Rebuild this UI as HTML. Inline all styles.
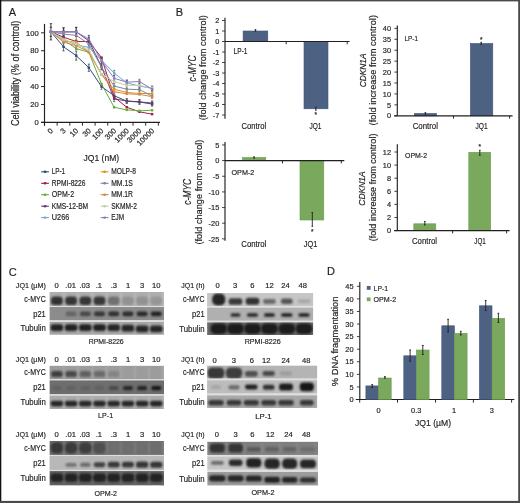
<!DOCTYPE html><html><head><meta charset="utf-8"><style>html,body{margin:0;padding:0;background:#fff;overflow:hidden}svg{display:block;will-change:transform}text{font-family:"Liberation Sans", sans-serif;stroke:#231f20;stroke-width:0.18px}</style></head><body><svg width="520" height="503" viewBox="0 0 520 503" font-family='"Liberation Sans", sans-serif'><defs><filter id="b1" x="-50%" y="-80%" width="200%" height="260%"><feGaussianBlur stdDeviation="0.95"/></filter><clipPath id="c0"><rect x="49.5" y="292.0" width="114.50" height="13.90"/></clipPath><clipPath id="c1"><rect x="49.5" y="306.9" width="114.50" height="13.40"/></clipPath><clipPath id="c2"><rect x="49.5" y="321.8" width="114.50" height="13.00"/></clipPath><clipPath id="c3"><rect x="49.5" y="365.7" width="114.50" height="13.50"/></clipPath><clipPath id="c4"><rect x="49.5" y="380.3" width="114.50" height="13.90"/></clipPath><clipPath id="c5"><rect x="49.5" y="395.6" width="114.50" height="13.40"/></clipPath><clipPath id="c6"><rect x="49.5" y="441.0" width="114.50" height="13.90"/></clipPath><clipPath id="c7"><rect x="49.5" y="455.9" width="114.50" height="14.00"/></clipPath><clipPath id="c8"><rect x="49.5" y="471.1" width="114.50" height="14.40"/></clipPath><clipPath id="c9"><rect x="207.1" y="293.1" width="106.10" height="12.80"/></clipPath><clipPath id="c10"><rect x="207.1" y="307.5" width="106.10" height="13.20"/></clipPath><clipPath id="c11"><rect x="207.1" y="322.3" width="106.10" height="12.70"/></clipPath><clipPath id="c12"><rect x="207.1" y="365.6" width="110.10" height="13.00"/></clipPath><clipPath id="c13"><rect x="207.1" y="380.2" width="110.10" height="13.20"/></clipPath><clipPath id="c14"><rect x="207.1" y="395.3" width="110.10" height="12.60"/></clipPath><clipPath id="c15"><rect x="207.3" y="441.7" width="110.70" height="13.20"/></clipPath><clipPath id="c16"><rect x="207.3" y="456.5" width="110.70" height="13.20"/></clipPath><clipPath id="c17"><rect x="207.3" y="471.9" width="110.70" height="13.70"/></clipPath></defs><rect x="0" y="0" width="520" height="503" fill="#fff"/><text x="8.8" y="16.1" font-size="11" text-anchor="start" fill="#231f20">A</text><line x1="44.50" y1="23.90" x2="44.50" y2="125.70" stroke="#231f20" stroke-width="1.15"/><line x1="41.00" y1="122.40" x2="44.50" y2="122.40" stroke="#231f20" stroke-width="0.95"/><text x="38.7" y="125.15" font-size="7.6" text-anchor="end" fill="#231f20">0</text><line x1="41.00" y1="104.48" x2="44.50" y2="104.48" stroke="#231f20" stroke-width="0.95"/><text x="38.7" y="107.23" font-size="7.6" text-anchor="end" fill="#231f20">20</text><line x1="41.00" y1="86.56" x2="44.50" y2="86.56" stroke="#231f20" stroke-width="0.95"/><text x="38.7" y="89.31" font-size="7.6" text-anchor="end" fill="#231f20">40</text><line x1="41.00" y1="68.64" x2="44.50" y2="68.64" stroke="#231f20" stroke-width="0.95"/><text x="38.7" y="71.39000000000001" font-size="7.6" text-anchor="end" fill="#231f20">60</text><line x1="41.00" y1="50.72" x2="44.50" y2="50.72" stroke="#231f20" stroke-width="0.95"/><text x="38.7" y="53.47" font-size="7.6" text-anchor="end" fill="#231f20">80</text><line x1="41.00" y1="32.80" x2="44.50" y2="32.80" stroke="#231f20" stroke-width="0.95"/><text x="38.7" y="35.55" font-size="7.6" text-anchor="end" fill="#231f20">100</text><line x1="41.00" y1="122.40" x2="160.00" y2="122.40" stroke="#231f20" stroke-width="1.15"/><line x1="44.50" y1="122.40" x2="44.50" y2="125.70" stroke="#231f20" stroke-width="0.95"/><line x1="57.15" y1="122.40" x2="57.15" y2="125.70" stroke="#231f20" stroke-width="0.95"/><line x1="69.80" y1="122.40" x2="69.80" y2="125.70" stroke="#231f20" stroke-width="0.95"/><line x1="82.45" y1="122.40" x2="82.45" y2="125.70" stroke="#231f20" stroke-width="0.95"/><line x1="95.10" y1="122.40" x2="95.10" y2="125.70" stroke="#231f20" stroke-width="0.95"/><line x1="107.75" y1="122.40" x2="107.75" y2="125.70" stroke="#231f20" stroke-width="0.95"/><line x1="120.40" y1="122.40" x2="120.40" y2="125.70" stroke="#231f20" stroke-width="0.95"/><line x1="133.05" y1="122.40" x2="133.05" y2="125.70" stroke="#231f20" stroke-width="0.95"/><line x1="145.70" y1="122.40" x2="145.70" y2="125.70" stroke="#231f20" stroke-width="0.95"/><line x1="158.35" y1="122.40" x2="158.35" y2="125.70" stroke="#231f20" stroke-width="0.95"/><text transform="translate(53.5,131.3) rotate(-45)" font-size="7.6" text-anchor="end" fill="#231f20">0</text><text transform="translate(66.14999999999999,131.3) rotate(-45)" font-size="7.6" text-anchor="end" fill="#231f20">3</text><text transform="translate(78.8,131.3) rotate(-45)" font-size="7.6" text-anchor="end" fill="#231f20">10</text><text transform="translate(91.44999999999999,131.3) rotate(-45)" font-size="7.6" text-anchor="end" fill="#231f20">30</text><text transform="translate(104.1,131.3) rotate(-45)" font-size="7.6" text-anchor="end" fill="#231f20">100</text><text transform="translate(116.75,131.3) rotate(-45)" font-size="7.6" text-anchor="end" fill="#231f20">300</text><text transform="translate(129.4,131.3) rotate(-45)" font-size="7.6" text-anchor="end" fill="#231f20">1000</text><text transform="translate(142.04999999999998,131.3) rotate(-45)" font-size="7.6" text-anchor="end" fill="#231f20">3000</text><text transform="translate(154.7,131.3) rotate(-45)" font-size="7.6" text-anchor="end" fill="#231f20">10000</text><text x="101.3" y="160.8" font-size="9.4" text-anchor="middle" textLength="35.6" lengthAdjust="spacingAndGlyphs" fill="#231f20">JQ1 (nM)</text><text transform="translate(19.0,73.4) rotate(-90)" font-size="10.2" text-anchor="middle" textLength="105.4" lengthAdjust="spacingAndGlyphs" fill="#231f20">Cell viability (% of control)</text><line x1="63.55" y1="42.75" x2="63.55" y2="50.90" stroke="#2a2a2a" stroke-width="0.7"/><line x1="62.45" y1="42.75" x2="64.65" y2="42.75" stroke="#2a2a2a" stroke-width="0.7"/><line x1="62.45" y1="50.90" x2="64.65" y2="50.90" stroke="#2a2a2a" stroke-width="0.7"/><line x1="76.20" y1="51.08" x2="76.20" y2="60.13" stroke="#2a2a2a" stroke-width="0.7"/><line x1="75.10" y1="51.08" x2="77.30" y2="51.08" stroke="#2a2a2a" stroke-width="0.7"/><line x1="75.10" y1="60.13" x2="77.30" y2="60.13" stroke="#2a2a2a" stroke-width="0.7"/><line x1="88.85" y1="64.11" x2="88.85" y2="71.35" stroke="#2a2a2a" stroke-width="0.7"/><line x1="87.75" y1="64.11" x2="89.95" y2="64.11" stroke="#2a2a2a" stroke-width="0.7"/><line x1="87.75" y1="71.35" x2="89.95" y2="71.35" stroke="#2a2a2a" stroke-width="0.7"/><line x1="101.50" y1="83.84" x2="101.50" y2="89.27" stroke="#555" stroke-width="0.7"/><line x1="100.40" y1="83.84" x2="102.60" y2="83.84" stroke="#555" stroke-width="0.7"/><line x1="100.40" y1="89.27" x2="102.60" y2="89.27" stroke="#555" stroke-width="0.7"/><line x1="114.15" y1="92.98" x2="114.15" y2="98.41" stroke="#555" stroke-width="0.7"/><line x1="113.05" y1="92.98" x2="115.25" y2="92.98" stroke="#555" stroke-width="0.7"/><line x1="113.05" y1="98.41" x2="115.25" y2="98.41" stroke="#555" stroke-width="0.7"/><line x1="126.80" y1="98.95" x2="126.80" y2="103.48" stroke="#555" stroke-width="0.7"/><line x1="125.70" y1="98.95" x2="127.90" y2="98.95" stroke="#555" stroke-width="0.7"/><line x1="125.70" y1="103.48" x2="127.90" y2="103.48" stroke="#555" stroke-width="0.7"/><line x1="139.45" y1="99.77" x2="139.45" y2="104.29" stroke="#555" stroke-width="0.7"/><line x1="138.35" y1="99.77" x2="140.55" y2="99.77" stroke="#555" stroke-width="0.7"/><line x1="138.35" y1="104.29" x2="140.55" y2="104.29" stroke="#555" stroke-width="0.7"/><line x1="152.10" y1="101.76" x2="152.10" y2="106.28" stroke="#555" stroke-width="0.7"/><line x1="151.00" y1="101.76" x2="153.20" y2="101.76" stroke="#555" stroke-width="0.7"/><line x1="151.00" y1="106.28" x2="153.20" y2="106.28" stroke="#555" stroke-width="0.7"/><line x1="63.55" y1="27.82" x2="63.55" y2="35.96" stroke="#2a2a2a" stroke-width="0.7"/><line x1="62.45" y1="27.82" x2="64.65" y2="27.82" stroke="#2a2a2a" stroke-width="0.7"/><line x1="62.45" y1="35.96" x2="64.65" y2="35.96" stroke="#2a2a2a" stroke-width="0.7"/><line x1="76.20" y1="27.37" x2="76.20" y2="36.42" stroke="#2a2a2a" stroke-width="0.7"/><line x1="75.10" y1="27.37" x2="77.30" y2="27.37" stroke="#2a2a2a" stroke-width="0.7"/><line x1="75.10" y1="36.42" x2="77.30" y2="36.42" stroke="#2a2a2a" stroke-width="0.7"/><line x1="88.85" y1="37.23" x2="88.85" y2="44.47" stroke="#2a2a2a" stroke-width="0.7"/><line x1="87.75" y1="37.23" x2="89.95" y2="37.23" stroke="#2a2a2a" stroke-width="0.7"/><line x1="87.75" y1="44.47" x2="89.95" y2="44.47" stroke="#2a2a2a" stroke-width="0.7"/><line x1="101.50" y1="63.93" x2="101.50" y2="69.36" stroke="#555" stroke-width="0.7"/><line x1="100.40" y1="63.93" x2="102.60" y2="63.93" stroke="#555" stroke-width="0.7"/><line x1="100.40" y1="69.36" x2="102.60" y2="69.36" stroke="#555" stroke-width="0.7"/><line x1="114.15" y1="96.24" x2="114.15" y2="101.67" stroke="#555" stroke-width="0.7"/><line x1="113.05" y1="96.24" x2="115.25" y2="96.24" stroke="#555" stroke-width="0.7"/><line x1="113.05" y1="101.67" x2="115.25" y2="101.67" stroke="#555" stroke-width="0.7"/><line x1="126.80" y1="98.68" x2="126.80" y2="103.20" stroke="#555" stroke-width="0.7"/><line x1="125.70" y1="98.68" x2="127.90" y2="98.68" stroke="#555" stroke-width="0.7"/><line x1="125.70" y1="103.20" x2="127.90" y2="103.20" stroke="#555" stroke-width="0.7"/><line x1="139.45" y1="99.58" x2="139.45" y2="104.11" stroke="#555" stroke-width="0.7"/><line x1="138.35" y1="99.58" x2="140.55" y2="99.58" stroke="#555" stroke-width="0.7"/><line x1="138.35" y1="104.11" x2="140.55" y2="104.11" stroke="#555" stroke-width="0.7"/><line x1="152.10" y1="100.85" x2="152.10" y2="105.38" stroke="#555" stroke-width="0.7"/><line x1="151.00" y1="100.85" x2="153.20" y2="100.85" stroke="#555" stroke-width="0.7"/><line x1="151.00" y1="105.38" x2="153.20" y2="105.38" stroke="#555" stroke-width="0.7"/><line x1="63.55" y1="34.97" x2="63.55" y2="43.11" stroke="#555" stroke-width="0.7"/><line x1="62.45" y1="34.97" x2="64.65" y2="34.97" stroke="#555" stroke-width="0.7"/><line x1="62.45" y1="43.11" x2="64.65" y2="43.11" stroke="#555" stroke-width="0.7"/><line x1="76.20" y1="40.49" x2="76.20" y2="49.54" stroke="#555" stroke-width="0.7"/><line x1="75.10" y1="40.49" x2="77.30" y2="40.49" stroke="#555" stroke-width="0.7"/><line x1="75.10" y1="49.54" x2="77.30" y2="49.54" stroke="#555" stroke-width="0.7"/><line x1="88.85" y1="43.75" x2="88.85" y2="50.99" stroke="#555" stroke-width="0.7"/><line x1="87.75" y1="43.75" x2="89.95" y2="43.75" stroke="#555" stroke-width="0.7"/><line x1="87.75" y1="50.99" x2="89.95" y2="50.99" stroke="#555" stroke-width="0.7"/><line x1="101.50" y1="57.50" x2="101.50" y2="62.93" stroke="#555" stroke-width="0.7"/><line x1="100.40" y1="57.50" x2="102.60" y2="57.50" stroke="#555" stroke-width="0.7"/><line x1="100.40" y1="62.93" x2="102.60" y2="62.93" stroke="#555" stroke-width="0.7"/><line x1="114.15" y1="70.35" x2="114.15" y2="75.78" stroke="#555" stroke-width="0.7"/><line x1="113.05" y1="70.35" x2="115.25" y2="70.35" stroke="#555" stroke-width="0.7"/><line x1="113.05" y1="75.78" x2="115.25" y2="75.78" stroke="#555" stroke-width="0.7"/><line x1="126.80" y1="80.58" x2="126.80" y2="85.10" stroke="#555" stroke-width="0.7"/><line x1="125.70" y1="80.58" x2="127.90" y2="80.58" stroke="#555" stroke-width="0.7"/><line x1="125.70" y1="85.10" x2="127.90" y2="85.10" stroke="#555" stroke-width="0.7"/><line x1="139.45" y1="83.84" x2="139.45" y2="88.36" stroke="#555" stroke-width="0.7"/><line x1="138.35" y1="83.84" x2="140.55" y2="83.84" stroke="#555" stroke-width="0.7"/><line x1="138.35" y1="88.36" x2="140.55" y2="88.36" stroke="#555" stroke-width="0.7"/><line x1="152.10" y1="86.01" x2="152.10" y2="90.53" stroke="#555" stroke-width="0.7"/><line x1="151.00" y1="86.01" x2="153.20" y2="86.01" stroke="#555" stroke-width="0.7"/><line x1="151.00" y1="90.53" x2="153.20" y2="90.53" stroke="#555" stroke-width="0.7"/><line x1="63.55" y1="29.99" x2="63.55" y2="38.13" stroke="#555" stroke-width="0.7"/><line x1="62.45" y1="29.99" x2="64.65" y2="29.99" stroke="#555" stroke-width="0.7"/><line x1="62.45" y1="38.13" x2="64.65" y2="38.13" stroke="#555" stroke-width="0.7"/><line x1="76.20" y1="30.90" x2="76.20" y2="39.95" stroke="#555" stroke-width="0.7"/><line x1="75.10" y1="30.90" x2="77.30" y2="30.90" stroke="#555" stroke-width="0.7"/><line x1="75.10" y1="39.95" x2="77.30" y2="39.95" stroke="#555" stroke-width="0.7"/><line x1="88.85" y1="40.31" x2="88.85" y2="47.55" stroke="#555" stroke-width="0.7"/><line x1="87.75" y1="40.31" x2="89.95" y2="40.31" stroke="#555" stroke-width="0.7"/><line x1="87.75" y1="47.55" x2="89.95" y2="47.55" stroke="#555" stroke-width="0.7"/><line x1="101.50" y1="64.56" x2="101.50" y2="69.99" stroke="#555" stroke-width="0.7"/><line x1="100.40" y1="64.56" x2="102.60" y2="64.56" stroke="#555" stroke-width="0.7"/><line x1="100.40" y1="69.99" x2="102.60" y2="69.99" stroke="#555" stroke-width="0.7"/><line x1="114.15" y1="83.38" x2="114.15" y2="88.81" stroke="#555" stroke-width="0.7"/><line x1="113.05" y1="83.38" x2="115.25" y2="83.38" stroke="#555" stroke-width="0.7"/><line x1="113.05" y1="88.81" x2="115.25" y2="88.81" stroke="#555" stroke-width="0.7"/><line x1="126.80" y1="86.91" x2="126.80" y2="91.44" stroke="#555" stroke-width="0.7"/><line x1="125.70" y1="86.91" x2="127.90" y2="86.91" stroke="#555" stroke-width="0.7"/><line x1="125.70" y1="91.44" x2="127.90" y2="91.44" stroke="#555" stroke-width="0.7"/><line x1="139.45" y1="87.37" x2="139.45" y2="91.89" stroke="#555" stroke-width="0.7"/><line x1="138.35" y1="87.37" x2="140.55" y2="87.37" stroke="#555" stroke-width="0.7"/><line x1="138.35" y1="91.89" x2="140.55" y2="91.89" stroke="#555" stroke-width="0.7"/><line x1="152.10" y1="93.79" x2="152.10" y2="98.32" stroke="#555" stroke-width="0.7"/><line x1="151.00" y1="93.79" x2="153.20" y2="93.79" stroke="#555" stroke-width="0.7"/><line x1="151.00" y1="98.32" x2="153.20" y2="98.32" stroke="#555" stroke-width="0.7"/><line x1="63.55" y1="27.82" x2="63.55" y2="35.96" stroke="#2a2a2a" stroke-width="0.7"/><line x1="62.45" y1="27.82" x2="64.65" y2="27.82" stroke="#2a2a2a" stroke-width="0.7"/><line x1="62.45" y1="35.96" x2="64.65" y2="35.96" stroke="#2a2a2a" stroke-width="0.7"/><line x1="76.20" y1="27.37" x2="76.20" y2="36.42" stroke="#2a2a2a" stroke-width="0.7"/><line x1="75.10" y1="27.37" x2="77.30" y2="27.37" stroke="#2a2a2a" stroke-width="0.7"/><line x1="75.10" y1="36.42" x2="77.30" y2="36.42" stroke="#2a2a2a" stroke-width="0.7"/><line x1="88.85" y1="35.42" x2="88.85" y2="42.66" stroke="#2a2a2a" stroke-width="0.7"/><line x1="87.75" y1="35.42" x2="89.95" y2="35.42" stroke="#2a2a2a" stroke-width="0.7"/><line x1="87.75" y1="42.66" x2="89.95" y2="42.66" stroke="#2a2a2a" stroke-width="0.7"/><line x1="101.50" y1="58.05" x2="101.50" y2="63.47" stroke="#555" stroke-width="0.7"/><line x1="100.40" y1="58.05" x2="102.60" y2="58.05" stroke="#555" stroke-width="0.7"/><line x1="100.40" y1="63.47" x2="102.60" y2="63.47" stroke="#555" stroke-width="0.7"/><line x1="114.15" y1="75.60" x2="114.15" y2="81.03" stroke="#555" stroke-width="0.7"/><line x1="113.05" y1="75.60" x2="115.25" y2="75.60" stroke="#555" stroke-width="0.7"/><line x1="113.05" y1="81.03" x2="115.25" y2="81.03" stroke="#555" stroke-width="0.7"/><line x1="126.80" y1="79.86" x2="126.80" y2="84.38" stroke="#555" stroke-width="0.7"/><line x1="125.70" y1="79.86" x2="127.90" y2="79.86" stroke="#555" stroke-width="0.7"/><line x1="125.70" y1="84.38" x2="127.90" y2="84.38" stroke="#555" stroke-width="0.7"/><line x1="139.45" y1="79.31" x2="139.45" y2="83.84" stroke="#555" stroke-width="0.7"/><line x1="138.35" y1="79.31" x2="140.55" y2="79.31" stroke="#555" stroke-width="0.7"/><line x1="138.35" y1="83.84" x2="140.55" y2="83.84" stroke="#555" stroke-width="0.7"/><line x1="152.10" y1="86.91" x2="152.10" y2="91.44" stroke="#555" stroke-width="0.7"/><line x1="151.00" y1="86.91" x2="153.20" y2="86.91" stroke="#555" stroke-width="0.7"/><line x1="151.00" y1="91.44" x2="153.20" y2="91.44" stroke="#555" stroke-width="0.7"/><line x1="50.90" y1="23.66" x2="50.90" y2="39.94" stroke="#111" stroke-width="0.8"/><line x1="49.70" y1="23.66" x2="52.10" y2="23.66" stroke="#111" stroke-width="0.7"/><line x1="49.70" y1="39.94" x2="52.10" y2="39.94" stroke="#111" stroke-width="0.7"/><line x1="49.70" y1="27.27" x2="52.10" y2="27.27" stroke="#111" stroke-width="0.7"/><line x1="49.70" y1="36.32" x2="52.10" y2="36.32" stroke="#111" stroke-width="0.7"/><polyline points="50.90,31.80 63.55,46.82 76.20,55.60 88.85,67.73 101.50,86.55 114.15,95.69 126.80,101.21 139.45,102.03 152.10,104.02" fill="none" stroke="#2e4d86" stroke-width="1"/><rect x="49.70" y="30.60" width="2.4" height="2.4" fill="#2e4d86"/><rect x="62.35" y="45.62" width="2.4" height="2.4" fill="#2e4d86"/><rect x="75.00" y="54.40" width="2.4" height="2.4" fill="#2e4d86"/><rect x="87.65" y="66.53" width="2.4" height="2.4" fill="#2e4d86"/><rect x="100.30" y="85.35" width="2.4" height="2.4" fill="#2e4d86"/><rect x="112.95" y="94.49" width="2.4" height="2.4" fill="#2e4d86"/><rect x="125.60" y="100.01" width="2.4" height="2.4" fill="#2e4d86"/><rect x="138.25" y="100.83" width="2.4" height="2.4" fill="#2e4d86"/><rect x="150.90" y="102.82" width="2.4" height="2.4" fill="#2e4d86"/><polyline points="50.90,31.80 63.55,37.23 76.20,41.48 88.85,41.48 101.50,57.59 114.15,97.05 126.80,107.28 139.45,111.80 152.10,114.16" fill="none" stroke="#a51f3d" stroke-width="1"/><rect x="49.70" y="30.60" width="2.4" height="2.4" fill="#a51f3d"/><rect x="62.35" y="36.03" width="2.4" height="2.4" fill="#a51f3d"/><rect x="75.00" y="40.28" width="2.4" height="2.4" fill="#a51f3d"/><rect x="87.65" y="40.28" width="2.4" height="2.4" fill="#a51f3d"/><rect x="100.30" y="56.39" width="2.4" height="2.4" fill="#a51f3d"/><rect x="112.95" y="95.85" width="2.4" height="2.4" fill="#a51f3d"/><rect x="125.60" y="106.08" width="2.4" height="2.4" fill="#a51f3d"/><rect x="138.25" y="110.60" width="2.4" height="2.4" fill="#a51f3d"/><rect x="150.90" y="112.95" width="2.4" height="2.4" fill="#a51f3d"/><polyline points="50.90,31.80 63.55,39.67 76.20,48.63 88.85,52.25 101.50,84.02 114.15,107.28 126.80,109.90 139.45,110.81 152.10,110.26" fill="none" stroke="#6aaa3c" stroke-width="1"/><rect x="49.70" y="30.60" width="2.4" height="2.4" fill="#6aaa3c"/><rect x="62.35" y="38.47" width="2.4" height="2.4" fill="#6aaa3c"/><rect x="75.00" y="47.43" width="2.4" height="2.4" fill="#6aaa3c"/><rect x="87.65" y="51.05" width="2.4" height="2.4" fill="#6aaa3c"/><rect x="100.30" y="82.82" width="2.4" height="2.4" fill="#6aaa3c"/><rect x="112.95" y="106.08" width="2.4" height="2.4" fill="#6aaa3c"/><rect x="125.60" y="108.70" width="2.4" height="2.4" fill="#6aaa3c"/><rect x="138.25" y="109.61" width="2.4" height="2.4" fill="#6aaa3c"/><rect x="150.90" y="109.06" width="2.4" height="2.4" fill="#6aaa3c"/><polyline points="50.90,31.80 63.55,31.89 76.20,31.89 88.85,40.85 101.50,66.64 114.15,98.95 126.80,100.94 139.45,101.85 152.10,103.11" fill="none" stroke="#6c3a6e" stroke-width="1"/><rect x="49.70" y="30.60" width="2.4" height="2.4" fill="#6c3a6e"/><rect x="62.35" y="30.69" width="2.4" height="2.4" fill="#6c3a6e"/><rect x="75.00" y="30.69" width="2.4" height="2.4" fill="#6c3a6e"/><rect x="87.65" y="39.65" width="2.4" height="2.4" fill="#6c3a6e"/><rect x="100.30" y="65.44" width="2.4" height="2.4" fill="#6c3a6e"/><rect x="112.95" y="97.75" width="2.4" height="2.4" fill="#6c3a6e"/><rect x="125.60" y="99.74" width="2.4" height="2.4" fill="#6c3a6e"/><rect x="138.25" y="100.65" width="2.4" height="2.4" fill="#6c3a6e"/><rect x="150.90" y="101.91" width="2.4" height="2.4" fill="#6c3a6e"/><polyline points="50.90,31.80 63.55,39.04 76.20,45.01 88.85,47.37 101.50,60.22 114.15,73.07 126.80,82.84 139.45,86.10 152.10,88.27" fill="none" stroke="#6aa8dc" stroke-width="1"/><rect x="49.70" y="30.60" width="2.4" height="2.4" fill="#6aa8dc"/><rect x="62.35" y="37.84" width="2.4" height="2.4" fill="#6aa8dc"/><rect x="75.00" y="43.81" width="2.4" height="2.4" fill="#6aa8dc"/><rect x="87.65" y="46.17" width="2.4" height="2.4" fill="#6aa8dc"/><rect x="100.30" y="59.02" width="2.4" height="2.4" fill="#6aa8dc"/><rect x="112.95" y="71.87" width="2.4" height="2.4" fill="#6aa8dc"/><rect x="125.60" y="81.64" width="2.4" height="2.4" fill="#6aa8dc"/><rect x="138.25" y="84.90" width="2.4" height="2.4" fill="#6aa8dc"/><rect x="150.90" y="87.07" width="2.4" height="2.4" fill="#6aa8dc"/><polyline points="50.90,31.80 63.55,41.21 76.20,42.12 88.85,52.25 101.50,74.33 114.15,89.27 126.80,92.44 139.45,93.52 152.10,93.52" fill="none" stroke="#e4901e" stroke-width="1"/><rect x="49.70" y="30.60" width="2.4" height="2.4" fill="#e4901e"/><rect x="62.35" y="40.01" width="2.4" height="2.4" fill="#e4901e"/><rect x="75.00" y="40.92" width="2.4" height="2.4" fill="#e4901e"/><rect x="87.65" y="51.05" width="2.4" height="2.4" fill="#e4901e"/><rect x="100.30" y="73.13" width="2.4" height="2.4" fill="#e4901e"/><rect x="112.95" y="88.07" width="2.4" height="2.4" fill="#e4901e"/><rect x="125.60" y="91.23" width="2.4" height="2.4" fill="#e4901e"/><rect x="138.25" y="92.32" width="2.4" height="2.4" fill="#e4901e"/><rect x="150.90" y="92.32" width="2.4" height="2.4" fill="#e4901e"/><polyline points="50.90,31.80 63.55,34.06 76.20,35.42 88.85,43.93 101.50,67.28 114.15,86.10 126.80,89.18 139.45,89.63 152.10,96.05" fill="none" stroke="#7d879e" stroke-width="1"/><rect x="49.70" y="30.60" width="2.4" height="2.4" fill="#7d879e"/><rect x="62.35" y="32.86" width="2.4" height="2.4" fill="#7d879e"/><rect x="75.00" y="34.22" width="2.4" height="2.4" fill="#7d879e"/><rect x="87.65" y="42.73" width="2.4" height="2.4" fill="#7d879e"/><rect x="100.30" y="66.08" width="2.4" height="2.4" fill="#7d879e"/><rect x="112.95" y="84.90" width="2.4" height="2.4" fill="#7d879e"/><rect x="125.60" y="87.98" width="2.4" height="2.4" fill="#7d879e"/><rect x="138.25" y="88.43" width="2.4" height="2.4" fill="#7d879e"/><rect x="150.90" y="94.85" width="2.4" height="2.4" fill="#7d879e"/><polyline points="50.90,31.80 63.55,42.12 76.20,45.74 88.85,51.71 101.50,74.33 114.15,91.80 126.80,93.79 139.45,94.43 152.10,96.60" fill="none" stroke="#d4884c" stroke-width="1"/><rect x="49.70" y="30.60" width="2.4" height="2.4" fill="#d4884c"/><rect x="62.35" y="40.92" width="2.4" height="2.4" fill="#d4884c"/><rect x="75.00" y="44.54" width="2.4" height="2.4" fill="#d4884c"/><rect x="87.65" y="50.51" width="2.4" height="2.4" fill="#d4884c"/><rect x="100.30" y="73.13" width="2.4" height="2.4" fill="#d4884c"/><rect x="112.95" y="90.60" width="2.4" height="2.4" fill="#d4884c"/><rect x="125.60" y="92.59" width="2.4" height="2.4" fill="#d4884c"/><rect x="138.25" y="93.23" width="2.4" height="2.4" fill="#d4884c"/><rect x="150.90" y="95.40" width="2.4" height="2.4" fill="#d4884c"/><polyline points="50.90,31.80 63.55,39.67 76.20,43.93 88.85,49.90 101.50,74.33 114.15,81.57 126.80,85.38 139.45,85.38 152.10,88.00" fill="none" stroke="#c6cfa4" stroke-width="1"/><rect x="49.70" y="30.60" width="2.4" height="2.4" fill="#c6cfa4"/><rect x="62.35" y="38.47" width="2.4" height="2.4" fill="#c6cfa4"/><rect x="75.00" y="42.73" width="2.4" height="2.4" fill="#c6cfa4"/><rect x="87.65" y="48.70" width="2.4" height="2.4" fill="#c6cfa4"/><rect x="100.30" y="73.13" width="2.4" height="2.4" fill="#c6cfa4"/><rect x="112.95" y="80.37" width="2.4" height="2.4" fill="#c6cfa4"/><rect x="125.60" y="84.18" width="2.4" height="2.4" fill="#c6cfa4"/><rect x="138.25" y="84.18" width="2.4" height="2.4" fill="#c6cfa4"/><rect x="150.90" y="86.80" width="2.4" height="2.4" fill="#c6cfa4"/><polyline points="50.90,31.80 63.55,31.89 76.20,31.89 88.85,39.04 101.50,60.76 114.15,78.32 126.80,82.12 139.45,81.57 152.10,89.18" fill="none" stroke="#8a7cc0" stroke-width="1"/><rect x="49.70" y="30.60" width="2.4" height="2.4" fill="#8a7cc0"/><rect x="62.35" y="30.69" width="2.4" height="2.4" fill="#8a7cc0"/><rect x="75.00" y="30.69" width="2.4" height="2.4" fill="#8a7cc0"/><rect x="87.65" y="37.84" width="2.4" height="2.4" fill="#8a7cc0"/><rect x="100.30" y="59.56" width="2.4" height="2.4" fill="#8a7cc0"/><rect x="112.95" y="77.12" width="2.4" height="2.4" fill="#8a7cc0"/><rect x="125.60" y="80.92" width="2.4" height="2.4" fill="#8a7cc0"/><rect x="138.25" y="80.37" width="2.4" height="2.4" fill="#8a7cc0"/><rect x="150.90" y="87.98" width="2.4" height="2.4" fill="#8a7cc0"/><line x1="41.10" y1="171.80" x2="48.90" y2="171.80" stroke="#2e4d86" stroke-width="1.1"/><ellipse cx="45.00" cy="171.80" rx="1.5" ry="1.2" fill="#2e4d86"/><text x="51.8" y="174.3" font-size="8.2" text-anchor="start" textLength="13.3" lengthAdjust="spacingAndGlyphs" fill="#231f20">LP-1</text><line x1="41.10" y1="183.30" x2="48.90" y2="183.30" stroke="#a51f3d" stroke-width="1.1"/><ellipse cx="45.00" cy="183.30" rx="1.5" ry="1.2" fill="#a51f3d"/><text x="51.8" y="185.8" font-size="8.2" text-anchor="start" textLength="33.7" lengthAdjust="spacingAndGlyphs" fill="#231f20">RPMI-8226</text><line x1="41.10" y1="194.70" x2="48.90" y2="194.70" stroke="#6aaa3c" stroke-width="1.1"/><ellipse cx="45.00" cy="194.70" rx="1.5" ry="1.2" fill="#6aaa3c"/><text x="51.8" y="197.2" font-size="8.2" text-anchor="start" textLength="22.3" lengthAdjust="spacingAndGlyphs" fill="#231f20">OPM-2</text><line x1="41.10" y1="206.20" x2="48.90" y2="206.20" stroke="#6c3a6e" stroke-width="1.1"/><ellipse cx="45.00" cy="206.20" rx="1.5" ry="1.2" fill="#6c3a6e"/><text x="51.8" y="208.7" font-size="8.2" text-anchor="start" textLength="36.4" lengthAdjust="spacingAndGlyphs" fill="#231f20">KMS-12-BM</text><line x1="41.10" y1="217.60" x2="48.90" y2="217.60" stroke="#6aa8dc" stroke-width="1.1"/><ellipse cx="45.00" cy="217.60" rx="1.5" ry="1.2" fill="#6aa8dc"/><text x="51.8" y="220.1" font-size="8.2" text-anchor="start" textLength="17.5" lengthAdjust="spacingAndGlyphs" fill="#231f20">U266</text><line x1="100.70" y1="171.80" x2="108.50" y2="171.80" stroke="#e4901e" stroke-width="1.1"/><ellipse cx="104.60" cy="171.80" rx="1.5" ry="1.2" fill="#e4901e"/><text x="111.2" y="174.3" font-size="8.2" text-anchor="start" textLength="24.8" lengthAdjust="spacingAndGlyphs" fill="#231f20">MOLP-8</text><line x1="100.70" y1="183.30" x2="108.50" y2="183.30" stroke="#7d879e" stroke-width="1.1"/><ellipse cx="104.60" cy="183.30" rx="1.5" ry="1.2" fill="#7d879e"/><text x="111.2" y="185.8" font-size="8.2" text-anchor="start" textLength="21.6" lengthAdjust="spacingAndGlyphs" fill="#231f20">MM.1S</text><line x1="100.70" y1="194.70" x2="108.50" y2="194.70" stroke="#d4884c" stroke-width="1.1"/><ellipse cx="104.60" cy="194.70" rx="1.5" ry="1.2" fill="#d4884c"/><text x="111.2" y="197.2" font-size="8.2" text-anchor="start" textLength="21.8" lengthAdjust="spacingAndGlyphs" fill="#231f20">MM.1R</text><line x1="100.70" y1="206.20" x2="108.50" y2="206.20" stroke="#c6cfa4" stroke-width="1.1"/><ellipse cx="104.60" cy="206.20" rx="1.5" ry="1.2" fill="#c6cfa4"/><text x="111.2" y="208.7" font-size="8.2" text-anchor="start" textLength="25.8" lengthAdjust="spacingAndGlyphs" fill="#231f20">SKMM-2</text><line x1="100.70" y1="217.60" x2="108.50" y2="217.60" stroke="#8a7cc0" stroke-width="1.1"/><ellipse cx="104.60" cy="217.60" rx="1.5" ry="1.2" fill="#8a7cc0"/><text x="111.2" y="220.1" font-size="8.2" text-anchor="start" textLength="12.8" lengthAdjust="spacingAndGlyphs" fill="#231f20">EJM</text><text x="175.7" y="16.2" font-size="11" text-anchor="start" fill="#231f20">B</text><line x1="225.00" y1="17.70" x2="225.00" y2="118.80" stroke="#231f20" stroke-width="1.15"/><line x1="222.10" y1="20.50" x2="225.00" y2="20.50" stroke="#231f20" stroke-width="0.85"/><text x="219.3" y="23.15" font-size="7.4" text-anchor="end" fill="#231f20">2</text><line x1="222.10" y1="31.00" x2="225.00" y2="31.00" stroke="#231f20" stroke-width="0.85"/><text x="219.3" y="33.65" font-size="7.4" text-anchor="end" fill="#231f20">1</text><line x1="222.10" y1="41.50" x2="225.00" y2="41.50" stroke="#231f20" stroke-width="0.85"/><text x="219.3" y="44.15" font-size="7.4" text-anchor="end" fill="#231f20">0</text><line x1="222.10" y1="52.00" x2="225.00" y2="52.00" stroke="#231f20" stroke-width="0.85"/><text x="219.3" y="54.65" font-size="7.4" text-anchor="end" fill="#231f20">-1</text><line x1="222.10" y1="62.50" x2="225.00" y2="62.50" stroke="#231f20" stroke-width="0.85"/><text x="219.3" y="65.15" font-size="7.4" text-anchor="end" fill="#231f20">-2</text><line x1="222.10" y1="73.00" x2="225.00" y2="73.00" stroke="#231f20" stroke-width="0.85"/><text x="219.3" y="75.65" font-size="7.4" text-anchor="end" fill="#231f20">-3</text><line x1="222.10" y1="83.50" x2="225.00" y2="83.50" stroke="#231f20" stroke-width="0.85"/><text x="219.3" y="86.15" font-size="7.4" text-anchor="end" fill="#231f20">-4</text><line x1="222.10" y1="94.00" x2="225.00" y2="94.00" stroke="#231f20" stroke-width="0.85"/><text x="219.3" y="96.65" font-size="7.4" text-anchor="end" fill="#231f20">-5</text><line x1="222.10" y1="104.50" x2="225.00" y2="104.50" stroke="#231f20" stroke-width="0.85"/><text x="219.3" y="107.15" font-size="7.4" text-anchor="end" fill="#231f20">-6</text><line x1="222.10" y1="115.00" x2="225.00" y2="115.00" stroke="#231f20" stroke-width="0.85"/><text x="219.3" y="117.65" font-size="7.4" text-anchor="end" fill="#231f20">-7</text><rect x="243.10" y="31.00" width="24.70" height="10.50" fill="#4d6283" stroke="#3f5478" stroke-width="0.6"/><rect x="304.00" y="41.50" width="24.00" height="67.30" fill="#4d6283" stroke="#3f5478" stroke-width="0.6"/><line x1="225.00" y1="41.50" x2="349.60" y2="41.50" stroke="#231f20" stroke-width="1.15"/><line x1="286.20" y1="41.50" x2="286.20" y2="44.30" stroke="#231f20" stroke-width="0.95"/><line x1="347.20" y1="41.50" x2="347.20" y2="44.30" stroke="#231f20" stroke-width="0.95"/><line x1="255.50" y1="29.60" x2="255.50" y2="31.20" stroke="#231f20" stroke-width="0.9"/><line x1="254.70" y1="29.60" x2="256.30" y2="29.60" stroke="#231f20" stroke-width="0.9"/><line x1="254.70" y1="31.20" x2="256.30" y2="31.20" stroke="#231f20" stroke-width="0.9"/><line x1="315.80" y1="107.30" x2="315.80" y2="110.20" stroke="#231f20" stroke-width="0.9"/><line x1="315.00" y1="107.30" x2="316.60" y2="107.30" stroke="#231f20" stroke-width="0.9"/><line x1="315.00" y1="110.20" x2="316.60" y2="110.20" stroke="#231f20" stroke-width="0.9"/><text x="315.8" y="117.0" font-size="6.5" text-anchor="middle" fill="#231f20">*</text><text x="233.6" y="54.1" font-size="8.5" text-anchor="start" textLength="13.9" lengthAdjust="spacingAndGlyphs" fill="#231f20">LP-1</text><text x="253.9" y="129.2" font-size="8.6" text-anchor="middle" textLength="24.6" lengthAdjust="spacingAndGlyphs" fill="#231f20">Control</text><text x="315.5" y="129.2" font-size="8.6" text-anchor="middle" textLength="12.1" lengthAdjust="spacingAndGlyphs" fill="#231f20">JQ1</text><text transform="translate(195.8,68.45) rotate(-90)" font-size="10.2" text-anchor="middle" font-style="italic" textLength="26.0" lengthAdjust="spacingAndGlyphs" fill="#231f20">c-MYC</text><text transform="translate(205.9,67.7) rotate(-90)" font-size="9.2" text-anchor="middle" textLength="105" lengthAdjust="spacingAndGlyphs" fill="#231f20">(fold change from control)</text><line x1="397.30" y1="25.50" x2="397.30" y2="115.80" stroke="#231f20" stroke-width="1.15"/><line x1="394.40" y1="28.36" x2="397.30" y2="28.36" stroke="#231f20" stroke-width="0.85"/><text x="391.0" y="31.009999999999998" font-size="7.4" text-anchor="end" fill="#231f20">40</text><line x1="394.40" y1="39.29" x2="397.30" y2="39.29" stroke="#231f20" stroke-width="0.85"/><text x="391.0" y="41.940000000000005" font-size="7.4" text-anchor="end" fill="#231f20">35</text><line x1="394.40" y1="50.22" x2="397.30" y2="50.22" stroke="#231f20" stroke-width="0.85"/><text x="391.0" y="52.87" font-size="7.4" text-anchor="end" fill="#231f20">30</text><line x1="394.40" y1="61.15" x2="397.30" y2="61.15" stroke="#231f20" stroke-width="0.85"/><text x="391.0" y="63.8" font-size="7.4" text-anchor="end" fill="#231f20">25</text><line x1="394.40" y1="72.08" x2="397.30" y2="72.08" stroke="#231f20" stroke-width="0.85"/><text x="391.0" y="74.73" font-size="7.4" text-anchor="end" fill="#231f20">20</text><line x1="394.40" y1="83.01" x2="397.30" y2="83.01" stroke="#231f20" stroke-width="0.85"/><text x="391.0" y="85.66" font-size="7.4" text-anchor="end" fill="#231f20">15</text><line x1="394.40" y1="93.94" x2="397.30" y2="93.94" stroke="#231f20" stroke-width="0.85"/><text x="391.0" y="96.59" font-size="7.4" text-anchor="end" fill="#231f20">10</text><line x1="394.40" y1="104.87" x2="397.30" y2="104.87" stroke="#231f20" stroke-width="0.85"/><text x="391.0" y="107.52000000000001" font-size="7.4" text-anchor="end" fill="#231f20">5</text><line x1="394.40" y1="115.80" x2="397.30" y2="115.80" stroke="#231f20" stroke-width="0.85"/><text x="391.0" y="118.45" font-size="7.4" text-anchor="end" fill="#231f20">0</text><rect x="414.30" y="113.50" width="22.20" height="2.30" fill="#4d6283" stroke="#3f5478" stroke-width="0.6"/><rect x="470.40" y="43.50" width="22.40" height="72.30" fill="#4d6283" stroke="#3f5478" stroke-width="0.6"/><line x1="394.20" y1="115.80" x2="512.60" y2="115.80" stroke="#231f20" stroke-width="1.15"/><line x1="453.50" y1="115.80" x2="453.50" y2="118.60" stroke="#231f20" stroke-width="0.95"/><line x1="509.60" y1="115.80" x2="509.60" y2="118.60" stroke="#231f20" stroke-width="0.95"/><line x1="481.20" y1="42.30" x2="481.20" y2="44.30" stroke="#231f20" stroke-width="0.9"/><line x1="480.40" y1="42.30" x2="482.00" y2="42.30" stroke="#231f20" stroke-width="0.9"/><line x1="480.40" y1="44.30" x2="482.00" y2="44.30" stroke="#231f20" stroke-width="0.9"/><line x1="425.40" y1="112.60" x2="425.40" y2="114.20" stroke="#231f20" stroke-width="0.9"/><line x1="424.60" y1="112.60" x2="426.20" y2="112.60" stroke="#231f20" stroke-width="0.9"/><line x1="424.60" y1="114.20" x2="426.20" y2="114.20" stroke="#231f20" stroke-width="0.9"/><text x="481.2" y="42.2" font-size="6.5" text-anchor="middle" fill="#231f20">*</text><text x="404.6" y="41.4" font-size="8" text-anchor="start" textLength="13.4" lengthAdjust="spacingAndGlyphs" fill="#231f20">LP-1</text><text x="425.3" y="129.2" font-size="8.6" text-anchor="middle" textLength="25.3" lengthAdjust="spacingAndGlyphs" fill="#231f20">Control</text><text x="481.6" y="129.2" font-size="8.6" text-anchor="middle" textLength="12.2" lengthAdjust="spacingAndGlyphs" fill="#231f20">JQ1</text><text transform="translate(365.5,70.4) rotate(-90)" font-size="8.8" text-anchor="middle" font-style="italic" textLength="33.9" lengthAdjust="spacingAndGlyphs" fill="#231f20">CDKN1A</text><text transform="translate(376.0,70.2) rotate(-90)" font-size="8.8" text-anchor="middle" textLength="110.4" lengthAdjust="spacingAndGlyphs" fill="#231f20">(fold increase from control)</text><line x1="225.00" y1="141.90" x2="225.00" y2="240.80" stroke="#231f20" stroke-width="1.15"/><line x1="222.10" y1="144.95" x2="225.00" y2="144.95" stroke="#231f20" stroke-width="0.85"/><text x="219.3" y="147.6" font-size="7.4" text-anchor="end" fill="#231f20">5</text><line x1="222.10" y1="160.60" x2="225.00" y2="160.60" stroke="#231f20" stroke-width="0.85"/><text x="219.3" y="163.25" font-size="7.4" text-anchor="end" fill="#231f20">0</text><line x1="222.10" y1="176.25" x2="225.00" y2="176.25" stroke="#231f20" stroke-width="0.85"/><text x="219.3" y="178.9" font-size="7.4" text-anchor="end" fill="#231f20">-5</text><line x1="222.10" y1="191.90" x2="225.00" y2="191.90" stroke="#231f20" stroke-width="0.85"/><text x="219.3" y="194.54999999999998" font-size="7.4" text-anchor="end" fill="#231f20">-10</text><line x1="222.10" y1="207.55" x2="225.00" y2="207.55" stroke="#231f20" stroke-width="0.85"/><text x="219.3" y="210.2" font-size="7.4" text-anchor="end" fill="#231f20">-15</text><line x1="222.10" y1="223.20" x2="225.00" y2="223.20" stroke="#231f20" stroke-width="0.85"/><text x="219.3" y="225.85" font-size="7.4" text-anchor="end" fill="#231f20">-20</text><line x1="222.10" y1="238.85" x2="225.00" y2="238.85" stroke="#231f20" stroke-width="0.85"/><text x="219.3" y="241.5" font-size="7.4" text-anchor="end" fill="#231f20">-25</text><rect x="242.50" y="157.50" width="23.30" height="3.10" fill="#7aa85c" stroke="#6a9e4c" stroke-width="0.6"/><rect x="300.00" y="160.60" width="23.80" height="59.40" fill="#7aa85c" stroke="#6a9e4c" stroke-width="0.6"/><line x1="225.00" y1="160.60" x2="344.30" y2="160.60" stroke="#231f20" stroke-width="1.15"/><line x1="282.50" y1="160.60" x2="282.50" y2="163.40" stroke="#231f20" stroke-width="0.95"/><line x1="341.30" y1="160.60" x2="341.30" y2="163.40" stroke="#231f20" stroke-width="0.95"/><line x1="312.30" y1="212.50" x2="312.30" y2="226.30" stroke="#231f20" stroke-width="0.9"/><line x1="311.50" y1="212.50" x2="313.10" y2="212.50" stroke="#231f20" stroke-width="0.9"/><line x1="311.50" y1="226.30" x2="313.10" y2="226.30" stroke="#231f20" stroke-width="0.9"/><line x1="254.10" y1="156.80" x2="254.10" y2="158.20" stroke="#231f20" stroke-width="0.9"/><line x1="253.30" y1="156.80" x2="254.90" y2="156.80" stroke="#231f20" stroke-width="0.9"/><line x1="253.30" y1="158.20" x2="254.90" y2="158.20" stroke="#231f20" stroke-width="0.9"/><text x="312.3" y="234.3" font-size="6.5" text-anchor="middle" fill="#231f20">*</text><text x="231.5" y="175.0" font-size="8" text-anchor="start" textLength="22.8" lengthAdjust="spacingAndGlyphs" fill="#231f20">OPM-2</text><text x="253.8" y="247.4" font-size="8.6" text-anchor="middle" textLength="25" lengthAdjust="spacingAndGlyphs" fill="#231f20">Control</text><text x="310.6" y="247.4" font-size="8.6" text-anchor="middle" textLength="13.5" lengthAdjust="spacingAndGlyphs" fill="#231f20">JQ1</text><text transform="translate(190.5,191.75) rotate(-90)" font-size="10.2" text-anchor="middle" font-style="italic" textLength="26.0" lengthAdjust="spacingAndGlyphs" fill="#231f20">c-MYC</text><text transform="translate(202.0,192.1) rotate(-90)" font-size="9.2" text-anchor="middle" textLength="105" lengthAdjust="spacingAndGlyphs" fill="#231f20">(fold change from control)</text><line x1="397.30" y1="144.30" x2="397.30" y2="230.60" stroke="#231f20" stroke-width="1.15"/><line x1="394.40" y1="152.00" x2="397.30" y2="152.00" stroke="#231f20" stroke-width="0.85"/><text x="391.0" y="154.65" font-size="7.4" text-anchor="end" fill="#231f20">12</text><line x1="394.40" y1="165.10" x2="397.30" y2="165.10" stroke="#231f20" stroke-width="0.85"/><text x="391.0" y="167.75" font-size="7.4" text-anchor="end" fill="#231f20">10</text><line x1="394.40" y1="178.20" x2="397.30" y2="178.20" stroke="#231f20" stroke-width="0.85"/><text x="391.0" y="180.85" font-size="7.4" text-anchor="end" fill="#231f20">8</text><line x1="394.40" y1="191.30" x2="397.30" y2="191.30" stroke="#231f20" stroke-width="0.85"/><text x="391.0" y="193.95000000000002" font-size="7.4" text-anchor="end" fill="#231f20">6</text><line x1="394.40" y1="204.40" x2="397.30" y2="204.40" stroke="#231f20" stroke-width="0.85"/><text x="391.0" y="207.05" font-size="7.4" text-anchor="end" fill="#231f20">4</text><line x1="394.40" y1="217.50" x2="397.30" y2="217.50" stroke="#231f20" stroke-width="0.85"/><text x="391.0" y="220.15" font-size="7.4" text-anchor="end" fill="#231f20">2</text><line x1="394.40" y1="230.60" x2="397.30" y2="230.60" stroke="#231f20" stroke-width="0.85"/><text x="391.0" y="233.25" font-size="7.4" text-anchor="end" fill="#231f20">0</text><rect x="413.80" y="223.80" width="22.00" height="6.80" fill="#7aa85c" stroke="#6a9e4c" stroke-width="0.6"/><rect x="468.80" y="152.30" width="21.90" height="78.30" fill="#7aa85c" stroke="#6a9e4c" stroke-width="0.6"/><line x1="394.20" y1="230.60" x2="509.60" y2="230.60" stroke="#231f20" stroke-width="1.15"/><line x1="452.60" y1="230.60" x2="452.60" y2="233.40" stroke="#231f20" stroke-width="0.95"/><line x1="506.60" y1="230.60" x2="506.60" y2="233.40" stroke="#231f20" stroke-width="0.95"/><line x1="479.80" y1="150.30" x2="479.80" y2="155.30" stroke="#231f20" stroke-width="0.9"/><line x1="479.00" y1="150.30" x2="480.60" y2="150.30" stroke="#231f20" stroke-width="0.9"/><line x1="479.00" y1="155.30" x2="480.60" y2="155.30" stroke="#231f20" stroke-width="0.9"/><line x1="424.80" y1="221.50" x2="424.80" y2="225.00" stroke="#231f20" stroke-width="0.9"/><line x1="424.00" y1="221.50" x2="425.60" y2="221.50" stroke="#231f20" stroke-width="0.9"/><line x1="424.00" y1="225.00" x2="425.60" y2="225.00" stroke="#231f20" stroke-width="0.9"/><text x="479.8" y="148.8" font-size="6.5" text-anchor="middle" fill="#231f20">*</text><text x="405" y="158.2" font-size="8" text-anchor="start" textLength="22" lengthAdjust="spacingAndGlyphs" fill="#231f20">OPM-2</text><text x="424.5" y="244.4" font-size="8.6" text-anchor="middle" textLength="25" lengthAdjust="spacingAndGlyphs" fill="#231f20">Control</text><text x="480.0" y="244.4" font-size="8.6" text-anchor="middle" textLength="11.5" lengthAdjust="spacingAndGlyphs" fill="#231f20">JQ1</text><text transform="translate(364.8,188.5) rotate(-90)" font-size="8.8" text-anchor="middle" font-style="italic" textLength="34.5" lengthAdjust="spacingAndGlyphs" fill="#231f20">CDKN1A</text><text transform="translate(376.0,187.4) rotate(-90)" font-size="8.8" text-anchor="middle" textLength="107.6" lengthAdjust="spacingAndGlyphs" fill="#231f20">(fold increase from control)</text><text x="8.8" y="275.8" font-size="11" text-anchor="start" fill="#231f20">C</text><text x="45.8" y="287.6" font-size="7.8" text-anchor="end" textLength="30" lengthAdjust="spacingAndGlyphs" fill="#231f20">JQ1 (µM)</text><text x="56.6" y="288.1" font-size="7.6" text-anchor="middle" fill="#231f20">0</text><text x="70.6" y="288.1" font-size="7.6" text-anchor="middle" fill="#231f20">.01</text><text x="84.7" y="288.1" font-size="7.6" text-anchor="middle" fill="#231f20">.03</text><text x="98.8" y="288.1" font-size="7.6" text-anchor="middle" fill="#231f20">.1</text><text x="113.8" y="288.1" font-size="7.6" text-anchor="middle" fill="#231f20">.3</text><text x="128.2" y="288.1" font-size="7.6" text-anchor="middle" fill="#231f20">1</text><text x="142.2" y="288.1" font-size="7.6" text-anchor="middle" fill="#231f20">3</text><text x="156.3" y="288.1" font-size="7.6" text-anchor="middle" fill="#231f20">10</text><rect x="49.50" y="292.00" width="114.50" height="42.80" fill="rgb(222,222,222)"/><text x="45.8" y="301.9" font-size="8.2" text-anchor="end" textLength="21.5" lengthAdjust="spacingAndGlyphs" fill="#231f20">c-MYC</text><g clip-path="url(#c0)"><rect x="49.50" y="292.00" width="114.50" height="13.90" fill="rgb(174,174,174)"/><rect x="162.60" y="292.0" width="1.6" height="13.899999999999977" fill="rgb(190,190,190)" filter="url(#b1)"/><rect x="63.20" y="292.0" width="1.6" height="13.899999999999977" fill="rgb(190,190,190)" filter="url(#b1)"/><rect x="77.40" y="292.0" width="1.6" height="13.899999999999977" fill="rgb(190,190,190)" filter="url(#b1)"/><rect x="91.60" y="292.0" width="1.6" height="13.899999999999977" fill="rgb(190,190,190)" filter="url(#b1)"/><rect x="105.80" y="292.0" width="1.6" height="13.899999999999977" fill="rgb(190,190,190)" filter="url(#b1)"/><rect x="120.00" y="292.0" width="1.6" height="13.899999999999977" fill="rgb(190,190,190)" filter="url(#b1)"/><rect x="134.20" y="292.0" width="1.6" height="13.899999999999977" fill="rgb(190,190,190)" filter="url(#b1)"/><rect x="148.40" y="292.0" width="1.6" height="13.899999999999977" fill="rgb(190,190,190)" filter="url(#b1)"/><rect x="162.60" y="292.0" width="1.6" height="13.899999999999977" fill="rgb(190,190,190)" filter="url(#b1)"/><rect x="51.00" y="296.60" width="11.80" height="8.40" rx="3.57" fill="rgb(50,50,50)" filter="url(#b1)"/><rect x="65.20" y="296.60" width="11.80" height="8.40" rx="3.57" fill="rgb(52,52,52)" filter="url(#b1)"/><rect x="79.40" y="296.60" width="11.80" height="8.40" rx="3.57" fill="rgb(54,54,54)" filter="url(#b1)"/><rect x="93.60" y="296.60" width="11.80" height="8.40" rx="3.57" fill="rgb(56,56,56)" filter="url(#b1)"/><rect x="107.80" y="296.60" width="11.80" height="8.40" rx="3.57" fill="rgb(112,112,112)" filter="url(#b1)"/><rect x="122.00" y="296.60" width="11.80" height="8.40" rx="3.57" fill="rgb(146,146,146)" filter="url(#b1)"/><rect x="136.20" y="296.60" width="11.80" height="8.40" rx="3.57" fill="rgb(146,146,146)" filter="url(#b1)"/><rect x="150.40" y="296.60" width="11.80" height="8.40" rx="3.57" fill="rgb(150,150,150)" filter="url(#b1)"/></g><text x="45.8" y="316.54999999999995" font-size="8.2" text-anchor="end" textLength="12.5" lengthAdjust="spacingAndGlyphs" fill="#231f20">p21</text><g clip-path="url(#c1)"><rect x="49.50" y="306.90" width="114.50" height="13.40" fill="rgb(140,140,140)"/><rect x="65.70" y="311.60" width="10.80" height="4.60" rx="1.95" fill="rgb(100,100,100)" filter="url(#b1)"/><rect x="79.90" y="311.60" width="10.80" height="4.60" rx="1.95" fill="rgb(70,70,70)" filter="url(#b1)"/><rect x="94.10" y="311.60" width="10.80" height="4.60" rx="1.95" fill="rgb(52,52,52)" filter="url(#b1)"/><rect x="108.30" y="311.60" width="10.80" height="4.60" rx="1.95" fill="rgb(46,46,46)" filter="url(#b1)"/><rect x="122.50" y="311.60" width="10.80" height="4.60" rx="1.95" fill="rgb(42,42,42)" filter="url(#b1)"/><rect x="136.70" y="311.60" width="10.80" height="4.60" rx="1.95" fill="rgb(40,40,40)" filter="url(#b1)"/><rect x="150.90" y="311.60" width="10.80" height="4.60" rx="1.95" fill="rgb(34,34,34)" filter="url(#b1)"/></g><text x="45.8" y="331.2" font-size="8.2" text-anchor="end" textLength="25.3" lengthAdjust="spacingAndGlyphs" fill="#231f20">Tubulin</text><g clip-path="url(#c2)"><rect x="49.50" y="321.80" width="114.50" height="13.00" fill="rgb(166,166,166)"/><rect x="162.60" y="321.8" width="1.6" height="13.0" fill="rgb(180,180,180)" filter="url(#b1)"/><rect x="63.20" y="321.8" width="1.6" height="13.0" fill="rgb(180,180,180)" filter="url(#b1)"/><rect x="77.40" y="321.8" width="1.6" height="13.0" fill="rgb(180,180,180)" filter="url(#b1)"/><rect x="91.60" y="321.8" width="1.6" height="13.0" fill="rgb(180,180,180)" filter="url(#b1)"/><rect x="105.80" y="321.8" width="1.6" height="13.0" fill="rgb(180,180,180)" filter="url(#b1)"/><rect x="120.00" y="321.8" width="1.6" height="13.0" fill="rgb(180,180,180)" filter="url(#b1)"/><rect x="134.20" y="321.8" width="1.6" height="13.0" fill="rgb(180,180,180)" filter="url(#b1)"/><rect x="148.40" y="321.8" width="1.6" height="13.0" fill="rgb(180,180,180)" filter="url(#b1)"/><rect x="162.60" y="321.8" width="1.6" height="13.0" fill="rgb(180,180,180)" filter="url(#b1)"/><rect x="50.50" y="324.20" width="12.80" height="6.80" rx="2.89" fill="rgb(36,36,36)" filter="url(#b1)"/><rect x="64.70" y="324.20" width="12.80" height="6.80" rx="2.89" fill="rgb(36,36,36)" filter="url(#b1)"/><rect x="78.90" y="324.20" width="12.80" height="6.80" rx="2.89" fill="rgb(36,36,36)" filter="url(#b1)"/><rect x="93.10" y="324.20" width="12.80" height="6.80" rx="2.89" fill="rgb(36,36,36)" filter="url(#b1)"/><rect x="107.30" y="324.20" width="12.80" height="6.80" rx="2.89" fill="rgb(38,38,38)" filter="url(#b1)"/><rect x="121.50" y="324.80" width="12.80" height="6.80" rx="2.89" fill="rgb(38,38,38)" filter="url(#b1)"/><rect x="135.70" y="325.40" width="12.80" height="6.80" rx="2.89" fill="rgb(38,38,38)" filter="url(#b1)"/><rect x="149.90" y="325.40" width="12.80" height="6.80" rx="2.89" fill="rgb(38,38,38)" filter="url(#b1)"/></g><text x="106.2" y="344.4" font-size="8" text-anchor="middle" textLength="35" lengthAdjust="spacingAndGlyphs" fill="#231f20">RPMI-8226</text><text x="45.8" y="361.6" font-size="7.8" text-anchor="end" textLength="30" lengthAdjust="spacingAndGlyphs" fill="#231f20">JQ1 (µM)</text><text x="56.6" y="362.1" font-size="7.6" text-anchor="middle" fill="#231f20">0</text><text x="70.6" y="362.1" font-size="7.6" text-anchor="middle" fill="#231f20">.01</text><text x="84.7" y="362.1" font-size="7.6" text-anchor="middle" fill="#231f20">.03</text><text x="98.8" y="362.1" font-size="7.6" text-anchor="middle" fill="#231f20">.1</text><text x="113.8" y="362.1" font-size="7.6" text-anchor="middle" fill="#231f20">.3</text><text x="128.2" y="362.1" font-size="7.6" text-anchor="middle" fill="#231f20">1</text><text x="142.2" y="362.1" font-size="7.6" text-anchor="middle" fill="#231f20">3</text><text x="156.3" y="362.1" font-size="7.6" text-anchor="middle" fill="#231f20">10</text><rect x="49.50" y="365.70" width="114.50" height="43.30" fill="rgb(222,222,222)"/><text x="45.8" y="375.25" font-size="8.2" text-anchor="end" textLength="21.5" lengthAdjust="spacingAndGlyphs" fill="#231f20">c-MYC</text><g clip-path="url(#c3)"><rect x="49.50" y="365.70" width="114.50" height="13.50" fill="rgb(156,156,156)"/><rect x="162.60" y="365.7" width="1.6" height="13.5" fill="rgb(170,170,170)" filter="url(#b1)"/><rect x="63.20" y="365.7" width="1.6" height="13.5" fill="rgb(170,170,170)" filter="url(#b1)"/><rect x="77.40" y="365.7" width="1.6" height="13.5" fill="rgb(170,170,170)" filter="url(#b1)"/><rect x="91.60" y="365.7" width="1.6" height="13.5" fill="rgb(170,170,170)" filter="url(#b1)"/><rect x="105.80" y="365.7" width="1.6" height="13.5" fill="rgb(170,170,170)" filter="url(#b1)"/><rect x="120.00" y="365.7" width="1.6" height="13.5" fill="rgb(170,170,170)" filter="url(#b1)"/><rect x="134.20" y="365.7" width="1.6" height="13.5" fill="rgb(170,170,170)" filter="url(#b1)"/><rect x="148.40" y="365.7" width="1.6" height="13.5" fill="rgb(170,170,170)" filter="url(#b1)"/><rect x="162.60" y="365.7" width="1.6" height="13.5" fill="rgb(170,170,170)" filter="url(#b1)"/><rect x="51.20" y="371.00" width="11.40" height="6.00" rx="2.55" fill="rgb(60,60,60)" filter="url(#b1)"/><rect x="65.40" y="371.00" width="11.40" height="6.00" rx="2.55" fill="rgb(72,72,72)" filter="url(#b1)"/><rect x="79.60" y="371.00" width="11.40" height="6.00" rx="2.55" fill="rgb(96,96,96)" filter="url(#b1)"/><rect x="93.80" y="371.00" width="11.40" height="6.00" rx="2.55" fill="rgb(106,106,106)" filter="url(#b1)"/><rect x="108.00" y="371.00" width="11.40" height="6.00" rx="2.55" fill="rgb(132,132,132)" filter="url(#b1)"/></g><text x="45.8" y="390.15" font-size="8.2" text-anchor="end" textLength="12.5" lengthAdjust="spacingAndGlyphs" fill="#231f20">p21</text><g clip-path="url(#c4)"><rect x="49.50" y="380.30" width="114.50" height="13.90" fill="rgb(110,110,110)"/><rect x="52.00" y="386.00" width="9.80" height="4.20" rx="1.78" fill="rgb(98,98,98)" filter="url(#b1)"/><rect x="66.20" y="386.00" width="9.80" height="4.20" rx="1.78" fill="rgb(98,98,98)" filter="url(#b1)"/><rect x="80.40" y="386.00" width="9.80" height="4.20" rx="1.78" fill="rgb(98,98,98)" filter="url(#b1)"/><rect x="94.60" y="386.00" width="9.80" height="4.20" rx="1.78" fill="rgb(96,96,96)" filter="url(#b1)"/><rect x="108.80" y="386.00" width="9.80" height="4.20" rx="1.78" fill="rgb(76,76,76)" filter="url(#b1)"/><rect x="123.00" y="386.00" width="9.80" height="4.20" rx="1.78" fill="rgb(40,40,40)" filter="url(#b1)"/><rect x="137.20" y="386.00" width="9.80" height="4.20" rx="1.78" fill="rgb(36,36,36)" filter="url(#b1)"/><rect x="151.40" y="386.00" width="9.80" height="4.20" rx="1.78" fill="rgb(24,24,24)" filter="url(#b1)"/></g><text x="45.8" y="405.2" font-size="8.2" text-anchor="end" textLength="25.3" lengthAdjust="spacingAndGlyphs" fill="#231f20">Tubulin</text><g clip-path="url(#c5)"><rect x="49.50" y="395.60" width="114.50" height="13.40" fill="rgb(172,172,172)"/><rect x="162.60" y="395.6" width="1.6" height="13.399999999999977" fill="rgb(184,184,184)" filter="url(#b1)"/><rect x="63.20" y="395.6" width="1.6" height="13.399999999999977" fill="rgb(184,184,184)" filter="url(#b1)"/><rect x="77.40" y="395.6" width="1.6" height="13.399999999999977" fill="rgb(184,184,184)" filter="url(#b1)"/><rect x="91.60" y="395.6" width="1.6" height="13.399999999999977" fill="rgb(184,184,184)" filter="url(#b1)"/><rect x="105.80" y="395.6" width="1.6" height="13.399999999999977" fill="rgb(184,184,184)" filter="url(#b1)"/><rect x="120.00" y="395.6" width="1.6" height="13.399999999999977" fill="rgb(184,184,184)" filter="url(#b1)"/><rect x="134.20" y="395.6" width="1.6" height="13.399999999999977" fill="rgb(184,184,184)" filter="url(#b1)"/><rect x="148.40" y="395.6" width="1.6" height="13.399999999999977" fill="rgb(184,184,184)" filter="url(#b1)"/><rect x="162.60" y="395.6" width="1.6" height="13.399999999999977" fill="rgb(184,184,184)" filter="url(#b1)"/><rect x="50.60" y="400.70" width="12.60" height="5.70" rx="2.42" fill="rgb(40,40,40)" filter="url(#b1)"/><rect x="64.80" y="400.70" width="12.60" height="5.70" rx="2.42" fill="rgb(40,40,40)" filter="url(#b1)"/><rect x="79.00" y="400.70" width="12.60" height="5.70" rx="2.42" fill="rgb(40,40,40)" filter="url(#b1)"/><rect x="93.20" y="400.70" width="12.60" height="5.70" rx="2.42" fill="rgb(40,40,40)" filter="url(#b1)"/><rect x="107.40" y="400.70" width="12.60" height="5.70" rx="2.42" fill="rgb(40,40,40)" filter="url(#b1)"/><rect x="121.60" y="400.70" width="12.60" height="5.70" rx="2.42" fill="rgb(40,40,40)" filter="url(#b1)"/><rect x="135.80" y="400.70" width="12.60" height="5.70" rx="2.42" fill="rgb(40,40,40)" filter="url(#b1)"/><rect x="150.00" y="400.70" width="12.60" height="5.70" rx="2.42" fill="rgb(40,40,40)" filter="url(#b1)"/></g><text x="105.6" y="418.2" font-size="8" text-anchor="middle" textLength="15" lengthAdjust="spacingAndGlyphs" fill="#231f20">LP-1</text><text x="45.8" y="436.9" font-size="7.8" text-anchor="end" textLength="30" lengthAdjust="spacingAndGlyphs" fill="#231f20">JQ1 (µM)</text><text x="56.6" y="437.4" font-size="7.6" text-anchor="middle" fill="#231f20">0</text><text x="70.6" y="437.4" font-size="7.6" text-anchor="middle" fill="#231f20">.01</text><text x="84.7" y="437.4" font-size="7.6" text-anchor="middle" fill="#231f20">.03</text><text x="98.8" y="437.4" font-size="7.6" text-anchor="middle" fill="#231f20">.1</text><text x="113.8" y="437.4" font-size="7.6" text-anchor="middle" fill="#231f20">.3</text><text x="128.2" y="437.4" font-size="7.6" text-anchor="middle" fill="#231f20">1</text><text x="142.2" y="437.4" font-size="7.6" text-anchor="middle" fill="#231f20">3</text><text x="156.3" y="437.4" font-size="7.6" text-anchor="middle" fill="#231f20">10</text><rect x="49.50" y="441.00" width="114.50" height="44.50" fill="rgb(222,222,222)"/><text x="45.8" y="450.84999999999997" font-size="8.2" text-anchor="end" textLength="21.5" lengthAdjust="spacingAndGlyphs" fill="#231f20">c-MYC</text><g clip-path="url(#c6)"><rect x="49.50" y="441.00" width="114.50" height="13.90" fill="rgb(110,110,110)"/><rect x="162.60" y="441.0" width="1.6" height="13.899999999999977" fill="rgb(128,128,128)" filter="url(#b1)"/><rect x="63.20" y="441.0" width="1.6" height="13.899999999999977" fill="rgb(128,128,128)" filter="url(#b1)"/><rect x="77.40" y="441.0" width="1.6" height="13.899999999999977" fill="rgb(128,128,128)" filter="url(#b1)"/><rect x="91.60" y="441.0" width="1.6" height="13.899999999999977" fill="rgb(128,128,128)" filter="url(#b1)"/><rect x="105.80" y="441.0" width="1.6" height="13.899999999999977" fill="rgb(128,128,128)" filter="url(#b1)"/><rect x="120.00" y="441.0" width="1.6" height="13.899999999999977" fill="rgb(128,128,128)" filter="url(#b1)"/><rect x="134.20" y="441.0" width="1.6" height="13.899999999999977" fill="rgb(128,128,128)" filter="url(#b1)"/><rect x="148.40" y="441.0" width="1.6" height="13.899999999999977" fill="rgb(128,128,128)" filter="url(#b1)"/><rect x="162.60" y="441.0" width="1.6" height="13.899999999999977" fill="rgb(128,128,128)" filter="url(#b1)"/><rect x="50.70" y="442.20" width="12.40" height="11.40" rx="4.85" fill="rgb(56,56,56)" filter="url(#b1)"/><rect x="64.90" y="442.20" width="12.40" height="11.40" rx="4.85" fill="rgb(58,58,58)" filter="url(#b1)"/><rect x="79.10" y="442.20" width="12.40" height="11.40" rx="4.85" fill="rgb(60,60,60)" filter="url(#b1)"/><rect x="93.30" y="442.20" width="12.40" height="11.40" rx="4.85" fill="rgb(80,80,80)" filter="url(#b1)"/></g><text x="45.8" y="465.79999999999995" font-size="8.2" text-anchor="end" textLength="12.5" lengthAdjust="spacingAndGlyphs" fill="#231f20">p21</text><g clip-path="url(#c7)"><rect x="49.50" y="455.90" width="114.50" height="14.00" fill="rgb(184,184,184)"/><rect x="65.60" y="463.00" width="11.00" height="3.80" rx="1.62" fill="rgb(112,112,112)" filter="url(#b1)"/><rect x="80.05" y="462.80" width="10.50" height="4.00" rx="1.70" fill="rgb(106,106,106)" filter="url(#b1)"/><rect x="93.75" y="462.20" width="11.50" height="5.00" rx="2.12" fill="rgb(64,64,64)" filter="url(#b1)"/><rect x="107.70" y="461.80" width="12.00" height="5.80" rx="2.47" fill="rgb(56,56,56)" filter="url(#b1)"/><rect x="121.90" y="461.80" width="12.00" height="5.80" rx="2.47" fill="rgb(56,56,56)" filter="url(#b1)"/><rect x="136.00" y="461.60" width="12.20" height="6.20" rx="2.63" fill="rgb(54,54,54)" filter="url(#b1)"/><rect x="150.20" y="461.80" width="12.20" height="6.00" rx="2.55" fill="rgb(54,54,54)" filter="url(#b1)"/></g><text x="45.8" y="481.2" font-size="8.2" text-anchor="end" textLength="25.3" lengthAdjust="spacingAndGlyphs" fill="#231f20">Tubulin</text><g clip-path="url(#c8)"><rect x="49.50" y="471.10" width="114.50" height="14.40" fill="rgb(96,96,96)"/><rect x="162.60" y="471.1" width="1.6" height="14.399999999999977" fill="rgb(112,112,112)" filter="url(#b1)"/><rect x="63.20" y="471.1" width="1.6" height="14.399999999999977" fill="rgb(112,112,112)" filter="url(#b1)"/><rect x="77.40" y="471.1" width="1.6" height="14.399999999999977" fill="rgb(112,112,112)" filter="url(#b1)"/><rect x="91.60" y="471.1" width="1.6" height="14.399999999999977" fill="rgb(112,112,112)" filter="url(#b1)"/><rect x="105.80" y="471.1" width="1.6" height="14.399999999999977" fill="rgb(112,112,112)" filter="url(#b1)"/><rect x="120.00" y="471.1" width="1.6" height="14.399999999999977" fill="rgb(112,112,112)" filter="url(#b1)"/><rect x="134.20" y="471.1" width="1.6" height="14.399999999999977" fill="rgb(112,112,112)" filter="url(#b1)"/><rect x="148.40" y="471.1" width="1.6" height="14.399999999999977" fill="rgb(112,112,112)" filter="url(#b1)"/><rect x="162.60" y="471.1" width="1.6" height="14.399999999999977" fill="rgb(112,112,112)" filter="url(#b1)"/><rect x="50.50" y="473.40" width="12.80" height="8.40" rx="3.57" fill="rgb(32,32,32)" filter="url(#b1)"/><rect x="64.70" y="473.40" width="12.80" height="8.40" rx="3.57" fill="rgb(32,32,32)" filter="url(#b1)"/><rect x="78.90" y="473.40" width="12.80" height="8.40" rx="3.57" fill="rgb(32,32,32)" filter="url(#b1)"/><rect x="93.10" y="473.40" width="12.80" height="8.40" rx="3.57" fill="rgb(32,32,32)" filter="url(#b1)"/><rect x="107.30" y="473.40" width="12.80" height="8.40" rx="3.57" fill="rgb(32,32,32)" filter="url(#b1)"/><rect x="121.50" y="473.40" width="12.80" height="8.40" rx="3.57" fill="rgb(32,32,32)" filter="url(#b1)"/><rect x="135.70" y="473.40" width="12.80" height="8.40" rx="3.57" fill="rgb(32,32,32)" filter="url(#b1)"/><rect x="149.90" y="473.40" width="12.80" height="8.40" rx="3.57" fill="rgb(32,32,32)" filter="url(#b1)"/></g><text x="105.8" y="496.0" font-size="8" text-anchor="middle" textLength="22.5" lengthAdjust="spacingAndGlyphs" fill="#231f20">OPM-2</text><text x="204.6" y="287.9" font-size="7.8" text-anchor="end" textLength="23.3" lengthAdjust="spacingAndGlyphs" fill="#231f20">JQ1 (h)</text><text x="217.7" y="288.4" font-size="7.6" text-anchor="middle" fill="#231f20">0</text><text x="235.2" y="288.4" font-size="7.6" text-anchor="middle" fill="#231f20">3</text><text x="252.3" y="288.4" font-size="7.6" text-anchor="middle" fill="#231f20">6</text><text x="269.5" y="288.4" font-size="7.6" text-anchor="middle" fill="#231f20">12</text><text x="285.6" y="288.4" font-size="7.6" text-anchor="middle" fill="#231f20">24</text><text x="302.8" y="288.4" font-size="7.6" text-anchor="middle" fill="#231f20">48</text><rect x="207.10" y="293.10" width="106.10" height="41.90" fill="rgb(222,222,222)"/><text x="204.6" y="302.4" font-size="8.2" text-anchor="end" textLength="21.5" lengthAdjust="spacingAndGlyphs" fill="#231f20">c-MYC</text><g clip-path="url(#c9)"><rect x="207.10" y="293.10" width="106.10" height="12.80" fill="rgb(198,198,198)"/><rect x="212.10" y="293.60" width="13.20" height="12.00" rx="5.10" fill="rgb(40,40,40)" filter="url(#b1)"/><rect x="228.65" y="298.20" width="13.70" height="6.60" rx="2.81" fill="rgb(56,56,56)" filter="url(#b1)"/><rect x="245.65" y="297.70" width="13.70" height="7.10" rx="3.02" fill="rgb(48,48,48)" filter="url(#b1)"/><rect x="263.00" y="299.00" width="12.80" height="4.90" rx="2.08" fill="rgb(106,106,106)" filter="url(#b1)"/><rect x="280.95" y="298.50" width="11.70" height="5.50" rx="2.34" fill="rgb(84,84,84)" filter="url(#b1)"/><rect x="297.60" y="299.20" width="12.80" height="4.00" rx="1.70" fill="rgb(168,168,168)" filter="url(#b1)"/></g><text x="204.6" y="317.0" font-size="8.2" text-anchor="end" textLength="12.5" lengthAdjust="spacingAndGlyphs" fill="#231f20">p21</text><g clip-path="url(#c10)"><rect x="207.10" y="307.50" width="106.10" height="13.20" fill="rgb(176,176,176)"/><rect x="230.70" y="313.20" width="9.60" height="3.60" rx="1.53" fill="rgb(44,44,44)" filter="url(#b1)"/><rect x="247.05" y="313.20" width="10.90" height="3.60" rx="1.53" fill="rgb(40,40,40)" filter="url(#b1)"/><rect x="264.10" y="313.20" width="10.60" height="3.60" rx="1.53" fill="rgb(34,34,34)" filter="url(#b1)"/><rect x="281.20" y="313.20" width="11.20" height="3.60" rx="1.53" fill="rgb(34,34,34)" filter="url(#b1)"/><rect x="298.45" y="313.20" width="11.10" height="3.60" rx="1.53" fill="rgb(34,34,34)" filter="url(#b1)"/></g><text x="204.6" y="331.54999999999995" font-size="8.2" text-anchor="end" textLength="25.3" lengthAdjust="spacingAndGlyphs" fill="#231f20">Tubulin</text><g clip-path="url(#c11)"><rect x="207.10" y="322.30" width="106.10" height="12.70" fill="rgb(106,106,106)"/><rect x="210.40" y="323.40" width="16.60" height="10.50" rx="4.46" fill="rgb(28,28,28)" filter="url(#b1)"/><rect x="227.20" y="323.40" width="16.60" height="10.50" rx="4.46" fill="rgb(28,28,28)" filter="url(#b1)"/><rect x="244.20" y="323.40" width="16.60" height="10.50" rx="4.46" fill="rgb(28,28,28)" filter="url(#b1)"/><rect x="261.10" y="323.40" width="16.60" height="10.50" rx="4.46" fill="rgb(28,28,28)" filter="url(#b1)"/><rect x="278.50" y="323.40" width="16.60" height="10.50" rx="4.46" fill="rgb(28,28,28)" filter="url(#b1)"/><rect x="295.70" y="323.40" width="16.60" height="10.50" rx="4.46" fill="rgb(28,28,28)" filter="url(#b1)"/></g><text x="262.7" y="344.3" font-size="8" text-anchor="middle" textLength="36" lengthAdjust="spacingAndGlyphs" fill="#231f20">RPMI-8226</text><text x="204.6" y="362.4" font-size="7.8" text-anchor="end" textLength="23.3" lengthAdjust="spacingAndGlyphs" fill="#231f20">JQ1 (h)</text><text x="214.5" y="362.9" font-size="7.6" text-anchor="middle" fill="#231f20">0</text><text x="233.8" y="362.9" font-size="7.6" text-anchor="middle" fill="#231f20">3</text><text x="251.8" y="362.9" font-size="7.6" text-anchor="middle" fill="#231f20">6</text><text x="266.3" y="362.9" font-size="7.6" text-anchor="middle" fill="#231f20">12</text><text x="285.8" y="362.9" font-size="7.6" text-anchor="middle" fill="#231f20">24</text><text x="306.3" y="362.9" font-size="7.6" text-anchor="middle" fill="#231f20">48</text><rect x="207.10" y="365.60" width="110.10" height="42.30" fill="rgb(222,222,222)"/><text x="204.6" y="374.85" font-size="8.2" text-anchor="end" textLength="21.5" lengthAdjust="spacingAndGlyphs" fill="#231f20">c-MYC</text><g clip-path="url(#c12)"><rect x="207.10" y="365.60" width="110.10" height="13.00" fill="rgb(180,180,180)"/><rect x="207.50" y="367.40" width="17.00" height="11.20" rx="4.76" fill="rgb(56,56,56)" filter="url(#b1)"/><rect x="225.80" y="367.40" width="16.40" height="11.20" rx="4.76" fill="rgb(60,60,60)" filter="url(#b1)"/><rect x="244.90" y="371.00" width="12.80" height="5.80" rx="2.47" fill="rgb(80,80,80)" filter="url(#b1)"/><rect x="262.60" y="371.00" width="12.20" height="5.00" rx="2.12" fill="rgb(74,74,74)" filter="url(#b1)"/><rect x="280.00" y="371.60" width="12.00" height="4.00" rx="1.70" fill="rgb(156,156,156)" filter="url(#b1)"/></g><text x="204.6" y="389.69999999999993" font-size="8.2" text-anchor="end" textLength="12.5" lengthAdjust="spacingAndGlyphs" fill="#231f20">p21</text><g clip-path="url(#c13)"><rect x="207.10" y="380.20" width="110.10" height="13.20" fill="rgb(188,188,188)"/><rect x="211.00" y="385.00" width="10.00" height="4.00" rx="1.70" fill="rgb(166,166,166)" filter="url(#b1)"/><rect x="228.40" y="385.20" width="11.20" height="4.20" rx="1.78" fill="rgb(106,106,106)" filter="url(#b1)"/><rect x="245.10" y="384.60" width="12.40" height="4.80" rx="2.04" fill="rgb(34,34,34)" filter="url(#b1)"/><rect x="262.90" y="384.70" width="11.60" height="5.10" rx="2.17" fill="rgb(50,50,50)" filter="url(#b1)"/><rect x="279.00" y="383.40" width="14.00" height="7.20" rx="3.06" fill="rgb(30,30,30)" filter="url(#b1)"/><rect x="299.70" y="382.60" width="14.20" height="8.60" rx="3.65" fill="rgb(24,24,24)" filter="url(#b1)"/></g><text x="204.6" y="404.5" font-size="8.2" text-anchor="end" textLength="25.3" lengthAdjust="spacingAndGlyphs" fill="#231f20">Tubulin</text><g clip-path="url(#c14)"><rect x="207.10" y="395.30" width="110.10" height="12.60" fill="rgb(168,168,168)"/><rect x="208.25" y="400.10" width="15.50" height="5.50" rx="2.34" fill="rgb(56,56,56)" filter="url(#b1)"/><rect x="226.75" y="400.10" width="14.50" height="5.50" rx="2.34" fill="rgb(56,56,56)" filter="url(#b1)"/><rect x="243.80" y="400.10" width="15.00" height="5.50" rx="2.34" fill="rgb(56,56,56)" filter="url(#b1)"/><rect x="261.30" y="400.10" width="14.80" height="5.50" rx="2.34" fill="rgb(56,56,56)" filter="url(#b1)"/><rect x="278.25" y="400.10" width="15.50" height="5.50" rx="2.34" fill="rgb(56,56,56)" filter="url(#b1)"/><rect x="299.95" y="400.10" width="13.70" height="5.50" rx="2.34" fill="rgb(56,56,56)" filter="url(#b1)"/></g><text x="263.4" y="418.6" font-size="8" text-anchor="middle" textLength="16.4" lengthAdjust="spacingAndGlyphs" fill="#231f20">LP-1</text><text x="204.6" y="436.9" font-size="7.8" text-anchor="end" textLength="23.3" lengthAdjust="spacingAndGlyphs" fill="#231f20">JQ1 (h)</text><text x="216.8" y="437.4" font-size="7.6" text-anchor="middle" fill="#231f20">0</text><text x="235.6" y="437.4" font-size="7.6" text-anchor="middle" fill="#231f20">3</text><text x="252.3" y="437.4" font-size="7.6" text-anchor="middle" fill="#231f20">6</text><text x="270.2" y="437.4" font-size="7.6" text-anchor="middle" fill="#231f20">12</text><text x="288.4" y="437.4" font-size="7.6" text-anchor="middle" fill="#231f20">24</text><text x="306.2" y="437.4" font-size="7.6" text-anchor="middle" fill="#231f20">48</text><rect x="207.30" y="441.70" width="110.70" height="43.90" fill="rgb(222,222,222)"/><text x="204.6" y="451.19999999999993" font-size="8.2" text-anchor="end" textLength="21.5" lengthAdjust="spacingAndGlyphs" fill="#231f20">c-MYC</text><g clip-path="url(#c15)"><rect x="207.30" y="441.70" width="110.70" height="13.20" fill="rgb(126,126,126)"/><rect x="207.70" y="441.7" width="1.6" height="13.199999999999989" fill="rgb(138,138,138)" filter="url(#b1)"/><rect x="225.50" y="441.7" width="1.6" height="13.199999999999989" fill="rgb(138,138,138)" filter="url(#b1)"/><rect x="243.30" y="441.7" width="1.6" height="13.199999999999989" fill="rgb(138,138,138)" filter="url(#b1)"/><rect x="261.10" y="441.7" width="1.6" height="13.199999999999989" fill="rgb(138,138,138)" filter="url(#b1)"/><rect x="278.90" y="441.7" width="1.6" height="13.199999999999989" fill="rgb(138,138,138)" filter="url(#b1)"/><rect x="296.70" y="441.7" width="1.6" height="13.199999999999989" fill="rgb(138,138,138)" filter="url(#b1)"/><rect x="314.50" y="441.7" width="1.6" height="13.199999999999989" fill="rgb(138,138,138)" filter="url(#b1)"/><rect x="209.70" y="443.40" width="15.20" height="9.20" rx="3.91" fill="rgb(50,50,50)" filter="url(#b1)"/><rect x="228.40" y="443.40" width="14.60" height="9.20" rx="3.91" fill="rgb(52,52,52)" filter="url(#b1)"/><rect x="247.00" y="447.20" width="13.60" height="4.40" rx="1.87" fill="rgb(86,86,86)" filter="url(#b1)"/><rect x="265.20" y="447.00" width="13.80" height="4.60" rx="1.96" fill="rgb(96,96,96)" filter="url(#b1)"/><rect x="283.00" y="447.00" width="13.40" height="4.60" rx="1.96" fill="rgb(100,100,100)" filter="url(#b1)"/><rect x="300.35" y="447.20" width="15.30" height="4.00" rx="1.70" fill="rgb(108,108,108)" filter="url(#b1)"/></g><text x="204.6" y="466.0" font-size="8.2" text-anchor="end" textLength="12.5" lengthAdjust="spacingAndGlyphs" fill="#231f20">p21</text><g clip-path="url(#c16)"><rect x="207.30" y="456.50" width="110.70" height="13.20" fill="rgb(198,198,198)"/><rect x="211.00" y="460.90" width="12.60" height="3.90" rx="1.66" fill="rgb(106,106,106)" filter="url(#b1)"/><rect x="228.90" y="459.60" width="13.60" height="6.40" rx="2.72" fill="rgb(44,44,44)" filter="url(#b1)"/><rect x="246.15" y="458.20" width="15.30" height="9.40" rx="4.00" fill="rgb(36,36,36)" filter="url(#b1)"/><rect x="264.35" y="458.40" width="15.50" height="10.40" rx="4.42" fill="rgb(38,38,38)" filter="url(#b1)"/><rect x="282.10" y="458.40" width="15.20" height="10.40" rx="4.42" fill="rgb(38,38,38)" filter="url(#b1)"/><rect x="300.00" y="459.60" width="16.00" height="8.60" rx="3.65" fill="rgb(40,40,40)" filter="url(#b1)"/></g><text x="204.6" y="481.65" font-size="8.2" text-anchor="end" textLength="25.3" lengthAdjust="spacingAndGlyphs" fill="#231f20">Tubulin</text><g clip-path="url(#c17)"><rect x="207.30" y="471.90" width="110.70" height="13.70" fill="rgb(156,156,156)"/><rect x="209.10" y="475.20" width="16.40" height="6.20" rx="2.63" fill="rgb(38,38,38)" filter="url(#b1)"/><rect x="227.75" y="475.20" width="15.90" height="6.20" rx="2.63" fill="rgb(38,38,38)" filter="url(#b1)"/><rect x="245.80" y="475.40" width="16.00" height="6.20" rx="2.64" fill="rgb(38,38,38)" filter="url(#b1)"/><rect x="264.35" y="476.80" width="15.50" height="6.00" rx="2.55" fill="rgb(36,36,36)" filter="url(#b1)"/><rect x="281.95" y="477.00" width="15.50" height="5.80" rx="2.47" fill="rgb(38,38,38)" filter="url(#b1)"/><rect x="300.00" y="477.40" width="16.00" height="5.20" rx="2.21" fill="rgb(46,46,46)" filter="url(#b1)"/></g><text x="263.0" y="495.0" font-size="8" text-anchor="middle" textLength="23.1" lengthAdjust="spacingAndGlyphs" fill="#231f20">OPM-2</text><text x="326.9" y="275.3" font-size="11" text-anchor="start" fill="#231f20">D</text><line x1="359.80" y1="282.00" x2="359.80" y2="399.50" stroke="#231f20" stroke-width="1.15"/><line x1="356.90" y1="286.32" x2="359.80" y2="286.32" stroke="#231f20" stroke-width="0.85"/><text x="353.6" y="288.97499999999997" font-size="7.4" text-anchor="end" fill="#231f20">45</text><line x1="356.90" y1="298.90" x2="359.80" y2="298.90" stroke="#231f20" stroke-width="0.85"/><text x="353.6" y="301.54999999999995" font-size="7.4" text-anchor="end" fill="#231f20">40</text><line x1="356.90" y1="311.48" x2="359.80" y2="311.48" stroke="#231f20" stroke-width="0.85"/><text x="353.6" y="314.125" font-size="7.4" text-anchor="end" fill="#231f20">35</text><line x1="356.90" y1="324.05" x2="359.80" y2="324.05" stroke="#231f20" stroke-width="0.85"/><text x="353.6" y="326.7" font-size="7.4" text-anchor="end" fill="#231f20">30</text><line x1="356.90" y1="336.62" x2="359.80" y2="336.62" stroke="#231f20" stroke-width="0.85"/><text x="353.6" y="339.275" font-size="7.4" text-anchor="end" fill="#231f20">25</text><line x1="356.90" y1="349.20" x2="359.80" y2="349.20" stroke="#231f20" stroke-width="0.85"/><text x="353.6" y="351.84999999999997" font-size="7.4" text-anchor="end" fill="#231f20">20</text><line x1="356.90" y1="361.77" x2="359.80" y2="361.77" stroke="#231f20" stroke-width="0.85"/><text x="353.6" y="364.42499999999995" font-size="7.4" text-anchor="end" fill="#231f20">15</text><line x1="356.90" y1="374.35" x2="359.80" y2="374.35" stroke="#231f20" stroke-width="0.85"/><text x="353.6" y="377.0" font-size="7.4" text-anchor="end" fill="#231f20">10</text><line x1="356.90" y1="386.93" x2="359.80" y2="386.93" stroke="#231f20" stroke-width="0.85"/><text x="353.6" y="389.575" font-size="7.4" text-anchor="end" fill="#231f20">5</text><line x1="356.90" y1="399.50" x2="359.80" y2="399.50" stroke="#231f20" stroke-width="0.85"/><text x="353.6" y="402.15" font-size="7.4" text-anchor="end" fill="#231f20">0</text><line x1="355.80" y1="399.50" x2="514.30" y2="399.50" stroke="#231f20" stroke-width="1.15"/><line x1="359.70" y1="399.50" x2="359.70" y2="402.60" stroke="#231f20" stroke-width="0.95"/><line x1="397.50" y1="399.50" x2="397.50" y2="402.60" stroke="#231f20" stroke-width="0.95"/><line x1="435.50" y1="399.50" x2="435.50" y2="402.60" stroke="#231f20" stroke-width="0.95"/><line x1="473.40" y1="399.50" x2="473.40" y2="402.60" stroke="#231f20" stroke-width="0.95"/><line x1="511.60" y1="399.50" x2="511.60" y2="402.60" stroke="#231f20" stroke-width="0.95"/><rect x="365.90" y="385.90" width="12.60" height="13.60" fill="#4d6283" stroke="#3f5478" stroke-width="0.6"/><rect x="378.50" y="378.00" width="12.70" height="21.50" fill="#7aa85c" stroke="#6a9e4c" stroke-width="0.6"/><line x1="372.20" y1="384.60" x2="372.20" y2="387.40" stroke="#231f20" stroke-width="0.9"/><line x1="371.30" y1="384.60" x2="373.10" y2="384.60" stroke="#231f20" stroke-width="0.9"/><line x1="371.30" y1="387.40" x2="373.10" y2="387.40" stroke="#231f20" stroke-width="0.9"/><line x1="384.90" y1="376.60" x2="384.90" y2="378.20" stroke="#231f20" stroke-width="0.9"/><line x1="384.00" y1="376.60" x2="385.80" y2="376.60" stroke="#231f20" stroke-width="0.9"/><line x1="384.00" y1="378.20" x2="385.80" y2="378.20" stroke="#231f20" stroke-width="0.9"/><rect x="403.80" y="355.80" width="12.60" height="43.70" fill="#4d6283" stroke="#3f5478" stroke-width="0.6"/><rect x="416.40" y="350.00" width="12.70" height="49.50" fill="#7aa85c" stroke="#6a9e4c" stroke-width="0.6"/><line x1="410.10" y1="350.00" x2="410.10" y2="361.30" stroke="#231f20" stroke-width="0.9"/><line x1="409.20" y1="350.00" x2="411.00" y2="350.00" stroke="#231f20" stroke-width="0.9"/><line x1="409.20" y1="361.30" x2="411.00" y2="361.30" stroke="#231f20" stroke-width="0.9"/><line x1="422.80" y1="345.50" x2="422.80" y2="354.50" stroke="#231f20" stroke-width="0.9"/><line x1="421.90" y1="345.50" x2="423.70" y2="345.50" stroke="#231f20" stroke-width="0.9"/><line x1="421.90" y1="354.50" x2="423.70" y2="354.50" stroke="#231f20" stroke-width="0.9"/><rect x="441.80" y="325.80" width="12.60" height="73.70" fill="#4d6283" stroke="#3f5478" stroke-width="0.6"/><rect x="454.40" y="333.30" width="12.70" height="66.20" fill="#7aa85c" stroke="#6a9e4c" stroke-width="0.6"/><line x1="448.10" y1="319.30" x2="448.10" y2="332.00" stroke="#231f20" stroke-width="0.9"/><line x1="447.20" y1="319.30" x2="449.00" y2="319.30" stroke="#231f20" stroke-width="0.9"/><line x1="447.20" y1="332.00" x2="449.00" y2="332.00" stroke="#231f20" stroke-width="0.9"/><line x1="460.80" y1="331.30" x2="460.80" y2="335.00" stroke="#231f20" stroke-width="0.9"/><line x1="459.90" y1="331.30" x2="461.70" y2="331.30" stroke="#231f20" stroke-width="0.9"/><line x1="459.90" y1="335.00" x2="461.70" y2="335.00" stroke="#231f20" stroke-width="0.9"/><rect x="479.40" y="305.80" width="12.60" height="93.70" fill="#4d6283" stroke="#3f5478" stroke-width="0.6"/><rect x="492.00" y="318.30" width="12.70" height="81.20" fill="#7aa85c" stroke="#6a9e4c" stroke-width="0.6"/><line x1="485.70" y1="300.50" x2="485.70" y2="310.50" stroke="#231f20" stroke-width="0.9"/><line x1="484.80" y1="300.50" x2="486.60" y2="300.50" stroke="#231f20" stroke-width="0.9"/><line x1="484.80" y1="310.50" x2="486.60" y2="310.50" stroke="#231f20" stroke-width="0.9"/><line x1="498.40" y1="313.30" x2="498.40" y2="322.50" stroke="#231f20" stroke-width="0.9"/><line x1="497.50" y1="313.30" x2="499.30" y2="313.30" stroke="#231f20" stroke-width="0.9"/><line x1="497.50" y1="322.50" x2="499.30" y2="322.50" stroke="#231f20" stroke-width="0.9"/><text x="378.6" y="412.9" font-size="7.4" text-anchor="middle" fill="#231f20">0</text><text x="416.2" y="412.9" font-size="7.4" text-anchor="middle" fill="#231f20">0.3</text><text x="454.0" y="412.9" font-size="7.4" text-anchor="middle" fill="#231f20">1</text><text x="491.8" y="412.9" font-size="7.4" text-anchor="middle" fill="#231f20">3</text><text x="433.0" y="426.2" font-size="9.4" text-anchor="middle" textLength="36.1" lengthAdjust="spacingAndGlyphs" fill="#231f20">JQ1 (µM)</text><text transform="translate(338.4,341.4) rotate(-90)" font-size="9.4" text-anchor="middle" textLength="89.5" lengthAdjust="spacingAndGlyphs" fill="#231f20">% DNA fragmentation</text><rect x="366.80" y="286.00" width="3.80" height="3.80" fill="#4d6283"/><rect x="366.80" y="297.40" width="3.80" height="3.80" fill="#7aa85c"/><text x="373.6" y="290.9" font-size="8" text-anchor="start" textLength="14.4" lengthAdjust="spacingAndGlyphs" fill="#231f20">LP-1</text><text x="373.6" y="302.3" font-size="8" text-anchor="start" textLength="22.5" lengthAdjust="spacingAndGlyphs" fill="#231f20">OPM-2</text><rect x="0" y="0" width="520" height="1.4" fill="#4a4a4a"/><rect x="0" y="0" width="1.3" height="503" fill="#111"/><rect x="518.2" y="0" width="1.8" height="503" fill="#4a4a4a"/><rect x="0" y="500.9" width="520" height="2.1" fill="#4a4a4a"/></svg></body></html>
